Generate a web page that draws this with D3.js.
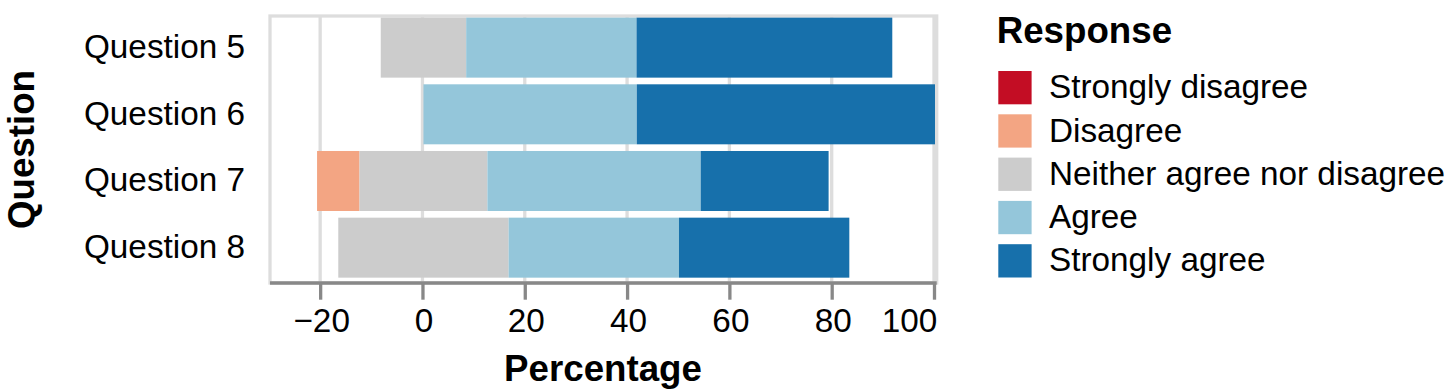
<!DOCTYPE html>
<html>
<head>
<meta charset="utf-8">
<script src="https://cdn.jsdelivr.net/npm/d3@7"></script>
<style>
  body { margin: 0; background: #fff; }
  svg { display: block; font-family: "Liberation Sans", Arial, sans-serif; }
</style>
</head>
<body>
<script>
// data (percentages per response type, one entry per question)
var questions = ["Question 5", "Question 6", "Question 7", "Question 8"];
var responses = ["Strongly disagree", "Disagree", "Neither agree nor disagree", "Agree", "Strongly agree"];
var stronglyDisagree = [0.0, 0.0, 0.0, 0.0];
var disagree = [0.0, 0.0, 8.3, 0.0];
var neither = [16.7, 0.0, 25.0, 33.3];
var agree = [33.3, 41.7, 41.7, 33.3];
var stronglyAgree = [50.0, 58.3, 25.0, 33.3];
var xTicks = [-20, 0, 20, 40, 60, 80, 100];
var colors = ["#c30d24", "#f3a583", "#cccccc", "#94c6da", "#1770ab"];

var width = 1446, height = 391;
var series = [stronglyDisagree, disagree, neither, agree, stronglyAgree];

/* diverging offsets: neutral category centred on zero */
var bars = [];
questions.forEach(function(q, i) {
	var start = -(stronglyDisagree[i] + disagree[i] + neither[i] / 2);
	responses.forEach(function(r, j) {
		var v = series[j][i];
		if (v > 0) bars.push({question: q, type: r, x0: start, x1: start + v});
		start += v;
	});
});

var svg = d3.select("body").append("svg")
	.attr("width", width)
	.attr("height", height);

var x = d3.scaleLinear().domain([-30, 100]).range([270, 935]);
var y = d3.scaleBand().domain(questions).range([14.3, 281])
	.paddingInner(0.1).paddingOuter(0.05);
var color = d3.scaleOrdinal().domain(responses).range(colors);

var plotTop = 16, plotBottom = 283;

// grid
svg.append("g")
	.attr("stroke", "#dddddd")
	.attr("stroke-width", 3.3)
  .selectAll("line")
  .data(xTicks)
  .enter().append("line")
	.attr("x1", function(d) { return x(d) - 1; })
	.attr("x2", function(d) { return x(d) - 1; })
	.attr("y1", plotTop)
	.attr("y2", plotBottom);

// view border
svg.append("rect")
	.attr("x", 270)
	.attr("y", plotTop)
	.attr("width", 936.7 - 270)
	.attr("height", plotBottom - plotTop)
	.attr("fill", "none")
	.attr("stroke", "#dddddd")
	.attr("stroke-width", 3.3);

// bars
svg.append("g")
  .selectAll("rect")
  .data(bars)
  .enter().append("rect")
	.attr("x", function(d) { return x(d.x0); })
	.attr("width", function(d) { return x(d.x1) - x(d.x0); })
	.attr("y", function(d) { return y(d.question); })
	.attr("height", y.bandwidth())
	.attr("fill", function(d) { return color(d.type); });

// x axis
var xAxis = svg.append("g")
	.attr("transform", "translate(0," + plotBottom + ")")
	.call(d3.axisBottom(x).tickValues(xTicks).tickSize(16.7).tickPadding(8).tickSizeOuter(0));
xAxis.select(".domain").attr("stroke", "#888").attr("stroke-width", 3.3)
	.attr("d", "M270,0H936.7");
xAxis.selectAll(".tick line").attr("stroke", "#888").attr("stroke-width", 3.3)
	.attr("x1", -1).attr("x2", -1);
xAxis.selectAll(".tick text")
	.attr("font-size", 33.3)
	.attr("fill", "#000")
	.attr("font-family", null)
	.attr("dy", null)
	.attr("y", 49.3)
	// last label flushed to the end of the range
	.attr("text-anchor", function(d) { return d === 100 ? "end" : "middle"; })
	.attr("x", function(d) { return d === 100 ? 1.7 : 0; });

// y axis labels
var yAxis = svg.append("g")
	.attr("transform", "translate(270,0)")
	.call(d3.axisLeft(y).tickSize(0).tickPadding(25));
yAxis.select(".domain").remove();
yAxis.selectAll(".tick text")
	.attr("font-size", 33.3)
	.attr("fill", "#000")
	.attr("font-family", null)
	.attr("dy", null)
	.attr("y", 10.2);

// axis titles
svg.append("text")
	.attr("x", 603)
	.attr("y", 380.7)
	.attr("text-anchor", "middle")
	.attr("font-weight", "bold")
	.attr("font-size", 36.7)
	.text("Percentage");

svg.append("text")
	.attr("transform", "translate(33.5,149.5) rotate(-90)")
	.attr("text-anchor", "middle")
	.attr("font-weight", "bold")
	.attr("font-size", 36.7)
	.text("Question");

// legend
var legend = svg.append("g").attr("transform", "translate(998.3,0)");
legend.append("text")
	.attr("x", -1.6)
	.attr("y", 43)
	.attr("font-weight", "bold")
	.attr("font-size", 36.7)
	.text("Response");

var item = legend.selectAll("g.item")
	.data(responses)
  .enter().append("g")
	.attr("class", "item")
	.attr("transform", function(d, i) { return "translate(0," + (71 + i * 43.3) + ")"; });
item.append("rect")
	.attr("width", 33.3)
	.attr("height", 33.3)
	.attr("fill", function(d) { return color(d); });
item.append("text")
	.attr("x", 50.7)
	.attr("y", 16.7 + 10.5)
	.attr("font-size", 33.3)
	.text(function(d) { return d; });
</script>
</body>
</html>
